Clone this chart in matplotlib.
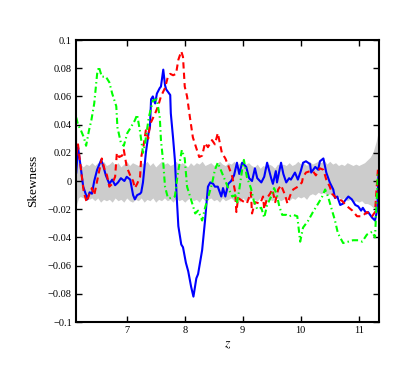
import numpy as np
import matplotlib
matplotlib.use("Agg")
import matplotlib.pyplot as plt

# -----------------------------------
# Data
# -----------------------------------
# gray envelope
band_z = [6.126, 6.14, 6.17,
          6.20, 6.25, 6.30, 6.35, 6.40, 6.45, 6.50, 6.55, 6.60, 6.65,
          6.70, 6.75, 6.80, 6.85, 6.90, 6.95, 7.00, 7.05, 7.10, 7.15,
          7.20, 7.25, 7.30, 7.35, 7.40, 7.45, 7.50, 7.55, 7.60, 7.65,
          7.70, 7.75, 7.80, 7.85, 7.90, 7.95, 8.00, 8.05, 8.10, 8.15,
          8.20, 8.25, 8.30, 8.35, 8.40, 8.45, 8.50, 8.55, 8.60, 8.65,
          8.70, 8.75, 8.80, 8.85, 8.90, 8.95, 9.00, 9.05, 9.10, 9.15,
          9.20, 9.25, 9.30, 9.35, 9.40, 9.45, 9.50, 9.55, 9.60, 9.65,
          9.70, 9.75, 9.80, 9.85, 9.90, 9.95, 10.00, 10.05, 10.10, 10.15,
          10.20, 10.25, 10.30, 10.35, 10.40, 10.45, 10.50, 10.55, 10.60, 10.65,
          10.70, 10.75, 10.80, 10.85, 10.90, 10.95, 11.00, 11.05, 11.10,
          11.15, 11.20, 11.25, 11.30, 11.35]
band_hi = [0.060, 0.025, 0.013,
           0.012, 0.010, 0.012, 0.011, 0.013, 0.011, 0.013, 0.012, 0.014, 0.011,
           0.012, 0.014, 0.011, 0.013, 0.010, 0.012, 0.014, 0.011, 0.013, 0.012,
           0.011, 0.013, 0.012, 0.014, 0.011, 0.013, 0.010, 0.012, 0.014, 0.012,
           0.013, 0.011, 0.012, 0.014, 0.011, 0.013, 0.012, 0.010, 0.013, 0.011,
           0.013, 0.012, 0.014, 0.011, 0.012, 0.013, 0.011, 0.012, 0.014, 0.012,
           0.011, 0.013, 0.012, 0.014, 0.011, 0.013, 0.014, 0.012, 0.013, 0.011,
           0.010, 0.012, 0.009, 0.011, 0.010, 0.012, 0.011, 0.009, 0.012, 0.011,
           0.012, 0.011, 0.013, 0.011, 0.012, 0.014, 0.012, 0.013, 0.011, 0.014,
           0.012, 0.013, 0.014, 0.013, 0.015, 0.012, 0.014, 0.012, 0.013, 0.011,
           0.012, 0.011, 0.013, 0.012, 0.011, 0.012, 0.011, 0.012, 0.013,
           0.015, 0.017, 0.021, 0.028, 0.038]
band_lo = [-0.020, -0.016, -0.012,
           -0.011, -0.012, -0.010, -0.013, -0.012, -0.014, -0.012, -0.015, -0.013, -0.014,
           -0.013, -0.015, -0.012, -0.014, -0.013, -0.015, -0.012, -0.014, -0.015, -0.013,
           -0.014, -0.012, -0.015, -0.013, -0.014, -0.012, -0.015, -0.013, -0.014, -0.012,
           -0.014, -0.013, -0.015, -0.012, -0.014, -0.013, -0.015, -0.013, -0.012, -0.014,
           -0.013, -0.015, -0.012, -0.014, -0.013, -0.012, -0.014, -0.013, -0.015, -0.012,
           -0.014, -0.013, -0.012, -0.014, -0.013, -0.015, -0.012, -0.014, -0.013, -0.012,
           -0.013, -0.014, -0.012, -0.013, -0.015, -0.012, -0.014, -0.013, -0.012, -0.014,
           -0.013, -0.012, -0.014, -0.012, -0.013, -0.011, -0.012, -0.011, -0.013, -0.010,
           -0.009, -0.010, -0.008, -0.009, -0.008, -0.010, -0.009, -0.011, -0.012, -0.011,
           -0.013, -0.012, -0.014, -0.013, -0.015, -0.014, -0.015, -0.014, -0.016,
           -0.016, -0.017, -0.019, -0.021, -0.023]

# blue (solid)
blue_z = [6.13, 6.16, 6.20, 6.25, 6.30, 6.32, 6.36, 6.40, 6.44, 6.49, 6.56, 6.60,
          6.64, 6.70, 6.75, 6.80, 6.85, 6.90, 6.96, 7.00, 7.06, 7.11, 7.14, 7.18,
          7.23, 7.25, 7.28, 7.33, 7.38, 7.40, 7.42, 7.45, 7.49, 7.52, 7.57, 7.59,
          7.63, 7.66, 7.68, 7.75, 7.76, 7.80, 7.83, 7.86, 7.89, 7.94, 7.97, 8.02,
          8.06, 8.11, 8.15, 8.20, 8.23, 8.30, 8.35, 8.40, 8.44, 8.49, 8.52, 8.57,
          8.63, 8.66, 8.70, 8.75, 8.80, 8.85, 8.90, 8.94, 8.99, 9.06, 9.11, 9.16,
          9.21, 9.25, 9.32, 9.37, 9.42, 9.49, 9.52, 9.57, 9.59, 9.66, 9.70, 9.75,
          9.80, 9.83, 9.90, 9.95, 10.00, 10.04, 10.09, 10.16, 10.18, 10.25, 10.30,
          10.33, 10.39, 10.44, 10.50, 10.56, 10.59, 10.63, 10.68, 10.73, 10.76,
          10.82, 10.88, 10.94, 10.99, 11.04, 11.07, 11.13, 11.16, 11.23, 11.28,
          11.32, 11.34]
blue_s = [0.006, 0.024, 0.012, -0.004, -0.010, -0.013, -0.008, -0.009, 0.000, 0.008,
          0.015, 0.010, 0.004, -0.002, 0.001, -0.003, -0.001, 0.002, 0.000, 0.003,
          0.001, -0.010, -0.013, -0.010, -0.009, -0.008, -0.001, 0.020, 0.035, 0.038,
          0.058, 0.060, 0.055, 0.062, 0.066, 0.067, 0.079, 0.068, 0.065, 0.061, 0.048,
          0.030, 0.015, -0.010, -0.032, -0.045, -0.047, -0.058, -0.064, -0.075,
          -0.082, -0.069, -0.066, -0.049, -0.028, -0.004, -0.001, -0.002, -0.004,
          -0.004, -0.011, -0.005, -0.011, -0.002, 0.000, 0.004, 0.013, 0.005, 0.013,
          0.010, 0.002, 0.000, 0.009, 0.002, -0.001, 0.003, 0.013, 0.002, -0.002,
          0.007, -0.001, 0.013, 0.005, -0.001, 0.002, 0.001, 0.006, 0.001, 0.007,
          0.013, 0.014, 0.012, 0.006, 0.010, 0.008, 0.014, 0.016, 0.006, -0.001,
          -0.006, -0.012, -0.011, -0.017, -0.016, -0.014, -0.011, -0.013, -0.017,
          -0.018, -0.021, -0.019, -0.023, -0.022, -0.026, -0.028, -0.020, 0.005]

# red (dashed)
red_z = [6.13, 6.16, 6.20, 6.26, 6.31, 6.35, 6.40, 6.44, 6.49, 6.54, 6.57, 6.62,
         6.66, 6.70, 6.75, 6.80, 6.83, 6.87, 6.92, 6.95, 7.00, 7.06, 7.11, 7.14,
         7.18, 7.23, 7.25, 7.29, 7.33, 7.37, 7.40, 7.49, 7.54, 7.59, 7.66, 7.71,
         7.75, 7.80, 7.85, 7.89, 7.94, 7.97, 8.00, 8.04, 8.09, 8.14, 8.21, 8.25,
         8.30, 8.35, 8.40, 8.47, 8.52, 8.57, 8.64, 8.70, 8.75, 8.82, 8.87, 8.89,
         8.92, 8.99, 9.07, 9.14, 9.16, 9.21, 9.30, 9.35, 9.37, 9.42, 9.47, 9.51,
         9.56, 9.61, 9.66, 9.73, 9.77, 9.82, 9.87, 9.95, 10.02, 10.04, 10.09,
         10.16, 10.21, 10.26, 10.33, 10.39, 10.44, 10.50, 10.54, 10.61, 10.71,
         10.80, 10.89, 10.97, 11.06, 11.14, 11.23, 11.28, 11.33]
red_s = [0.018, 0.026, 0.012, -0.008, -0.015, -0.010, -0.005, -0.010, 0.000, 0.010,
         0.016, 0.008, 0.004, -0.004, -0.002, 0.003, 0.020, 0.017, 0.018, 0.022,
         0.010, 0.004, 0.000, -0.005, -0.002, 0.003, 0.017, 0.025, 0.036, 0.030,
         0.040, 0.048, 0.053, 0.060, 0.066, 0.074, 0.076, 0.075, 0.076, 0.086,
         0.092, 0.088, 0.067, 0.060, 0.045, 0.031, 0.022, 0.017, 0.018, 0.027,
         0.024, 0.029, 0.026, 0.034, 0.020, 0.016, 0.011, 0.003, -0.008, -0.022,
         -0.012, -0.014, -0.016, -0.008, -0.023, -0.015, -0.016, -0.011, -0.020,
         -0.012, -0.009, -0.006, -0.015, -0.006, -0.003, -0.010, -0.016, -0.010,
         -0.006, -0.004, -0.001, 0.003, 0.006, 0.007, 0.007, 0.004, 0.009, 0.008,
         0.001, -0.004, -0.009, -0.012, -0.014, -0.018, -0.021, -0.025, -0.025,
         -0.022, -0.025, -0.022, 0.008]

# green (dash-dot)
green_z = [6.13, 6.16, 6.21, 6.26, 6.30, 6.35, 6.39, 6.44, 6.49, 6.52, 6.57, 6.64,
           6.70, 6.75, 6.82, 6.84, 6.90, 6.95, 7.01, 7.07, 7.14, 7.18, 7.23, 7.28,
           7.31, 7.38, 7.45, 7.52, 7.57, 7.59, 7.63, 7.66, 7.71, 7.76, 7.83, 7.88,
           7.95, 8.00, 8.04, 8.13, 8.18, 8.23, 8.30, 8.35, 8.40, 8.47, 8.52, 8.57,
           8.64, 8.70, 8.75, 8.82, 8.87, 8.90, 8.94, 8.99, 9.02, 9.07, 9.14, 9.19,
           9.25, 9.32, 9.37, 9.42, 9.49, 9.54, 9.59, 9.63, 9.68, 9.75, 9.80, 9.87,
           9.94, 9.99, 10.04, 10.13, 10.21, 10.30, 10.37, 10.42, 10.47, 10.54,
           10.59, 10.64, 10.73, 10.82, 10.90, 10.99, 11.06, 11.14, 11.23, 11.28,
           11.33]
green_s = [0.045, 0.040, 0.036, 0.031, 0.025, 0.036, 0.043, 0.055, 0.076, 0.081,
           0.074, 0.074, 0.070, 0.062, 0.053, 0.038, 0.027, 0.025, 0.034, 0.038,
           0.043, 0.047, 0.035, 0.020, 0.025, 0.045, 0.057, 0.058, 0.045, 0.029,
           0.013, -0.004, -0.012, -0.012, -0.011, 0.005, 0.022, 0.016, -0.004,
           -0.016, -0.023, -0.021, -0.028, -0.019, -0.012, -0.002, 0.008, 0.013,
           0.006, 0.000, -0.005, -0.011, -0.010, -0.016, -0.006, 0.008, 0.015,
           0.003, -0.005, -0.014, -0.020, -0.019, -0.026, -0.017, -0.011, -0.005,
           -0.010, -0.018, -0.024, -0.024, -0.025, -0.024, -0.025, -0.043, -0.033,
           -0.028, -0.022, -0.016, -0.011, -0.006, -0.011, -0.021, -0.028, -0.037,
           -0.044, -0.043, -0.042, -0.042, -0.043, -0.038, -0.036, -0.040, 0.006]

x_ticks = [7, 8, 9, 10, 11]
y_ticks = [-0.1, -0.08, -0.06, -0.04, -0.02, 0, 0.02, 0.04, 0.06, 0.08, 0.1]
y_ticklabels = ["\u22120.1", "\u22120.08", "\u22120.06", "\u22120.04", "\u22120.02", "0",
                "0.02", "0.04", "0.06", "0.08", "0.1"]

# -----------------------------------
# Plot
# -----------------------------------
plt.rcParams["font.family"] = ["Liberation Serif", "DejaVu Serif"]
plt.rcParams["mathtext.fontset"] = "stix"

fig = plt.figure(figsize=(4.05, 3.74), dpi=100)
ax = fig.add_axes([0.1877, 0.139, 0.7483, 0.754])

ax.fill_between(band_z, band_lo, band_hi, color="#cccccc", linewidth=0)
ax.plot(blue_z, blue_s, color="blue", lw=1.5)
ax.plot(red_z, red_s, color="red", lw=1.5, linestyle=(0, (3, 2)))
ax.plot(green_z, green_s, color="#00ff00", lw=1.5, linestyle=(0, (3, 1.5, 0.7, 1.5)))

ax.set_xlim(6.126, 11.35)
ax.set_ylim(-0.1, 0.1)
ax.set_xticks(x_ticks)
ax.set_xticklabels([str(t) for t in x_ticks])
ax.set_yticks(y_ticks)
ax.set_yticklabels(y_ticklabels)
ax.tick_params(direction="in", top=True, right=True, length=4, width=1,
               labelsize=7.5, pad=3)
for sp in ax.spines.values():
    sp.set_linewidth(1.5)

ax.set_ylabel("Skewness", fontsize=9.5, labelpad=6)
ax.set_xlabel("$z$", fontsize=10, labelpad=2)

fig.savefig("out.png", dpi=100)
